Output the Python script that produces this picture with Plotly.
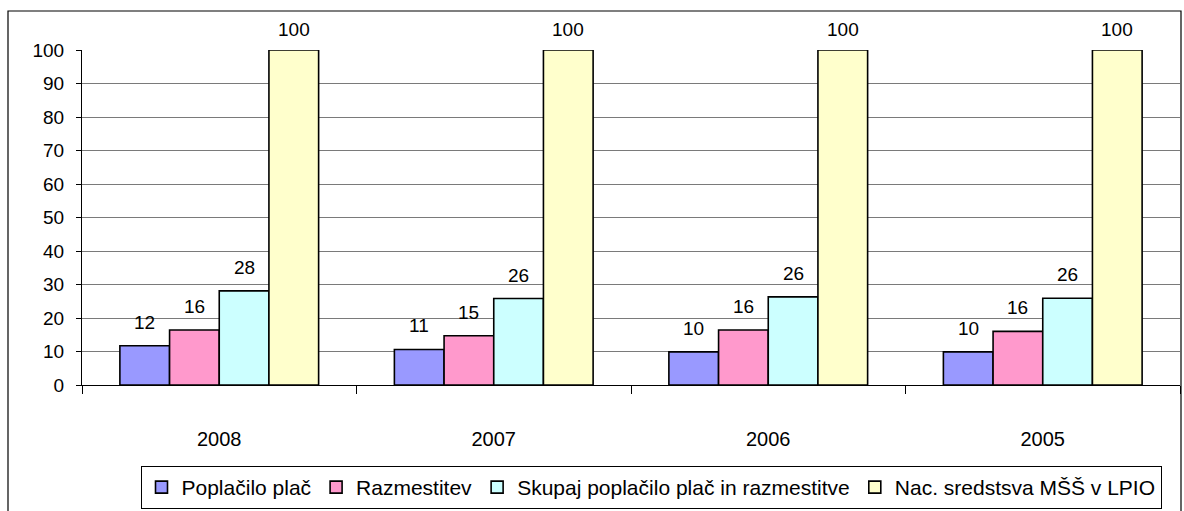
import plotly.graph_objects as go

years = ["2008", "2007", "2006", "2005"]
poplacilo = [11.7, 10.6, 9.9, 9.9]
razmestitev = [16.4, 14.7, 16.4, 16.0]
skupaj = [28.1, 25.8, 26.3, 25.9]
nac_sredstva = [100, 100, 100, 100]

series_names = ["Poplačilo plač", "Razmestitev",
                "Skupaj poplačilo plač in razmestitve", "Nac. sredstsva MŠŠ v LPIO"]
series_values = [poplacilo, razmestitev, skupaj, nac_sredstva]
colors = ["#9999FF", "#FF99CC", "#CCFFFF", "#FFFFCC"]

W, H = 1184, 511
ml, mr, mt, mb = 82, 4, 50, 126
plot_w = W - ml - mr
plot_h = H - mt - mb
bargap = 0.276
FONT = "Liberation Sans, Arial, sans-serif"

fig = go.Figure()
for name, vals, col in zip(series_names, series_values, colors):
    fig.add_trace(go.Bar(
        x=years, y=vals, name=name,
        marker=dict(color=col, line=dict(color="black", width=1.6)),
    ))

# value labels above bars (x given as category index)
cat_px = plot_w / len(years)
bar_px = cat_px * (1 - bargap) / len(series_values)
for i, vals in enumerate(series_values):
    for j, v in enumerate(vals):
        fig.add_annotation(
            x=j, y=v, text=f"{v:.0f}", showarrow=False,
            xshift=(i - 1.5) * bar_px, yshift=11 if v < 50 else 8,
            yanchor="bottom",
            font=dict(family=FONT, size=19, color="black"),
        )

# outer chart border
fig.add_shape(
    type="rect", xref="paper", yref="paper",
    x0=(8 - ml) / plot_w, x1=(1181 - ml) / plot_w,
    y0=-(H + 20 - mt - plot_h) / plot_h, y1=(plot_h + mt - 11) / plot_h,
    line=dict(color="black", width=1.2), layer="below",
)

fig.update_layout(
    width=W, height=H,
    margin=dict(l=ml, r=mr, t=mt, b=mb, autoexpand=False),
    paper_bgcolor="white", plot_bgcolor="white",
    barmode="group", bargap=bargap, bargroupgap=0,
    font=dict(family=FONT, size=19, color="black"),
    legend=dict(
        orientation="h", x=(651 - ml) / plot_w, xanchor="center",
        y=-(466 - mt - plot_h) / plot_h, yanchor="top",
        bordercolor="black", borderwidth=1,
        font=dict(family=FONT, size=21, color="black"),
        itemwidth=30, tracegroupgap=0,
    ),
    xaxis=dict(
        type="category", range=[-0.5, len(years) - 0.5],
        showline=True, linecolor="black", linewidth=1,
        ticks="outside", ticklen=8, tickcolor="black", tickson="boundaries",
        ticklabelstandoff=36,
        tickfont=dict(family=FONT, size=20),
        showgrid=False,
    ),
    yaxis=dict(
        range=[0, 100], dtick=10,
        showline=True, linecolor="black", linewidth=1,
        ticks="outside", ticklen=5, tickcolor="black",
        ticklabelstandoff=8,
        showgrid=True, gridcolor="#7a7a7a", gridwidth=1,
        zeroline=False,
        tickfont=dict(family=FONT, size=19),
    ),
)

fig.write_html("out.html", config={"displayModeBar": False},
               post_script="document.body.style.margin='0';")
